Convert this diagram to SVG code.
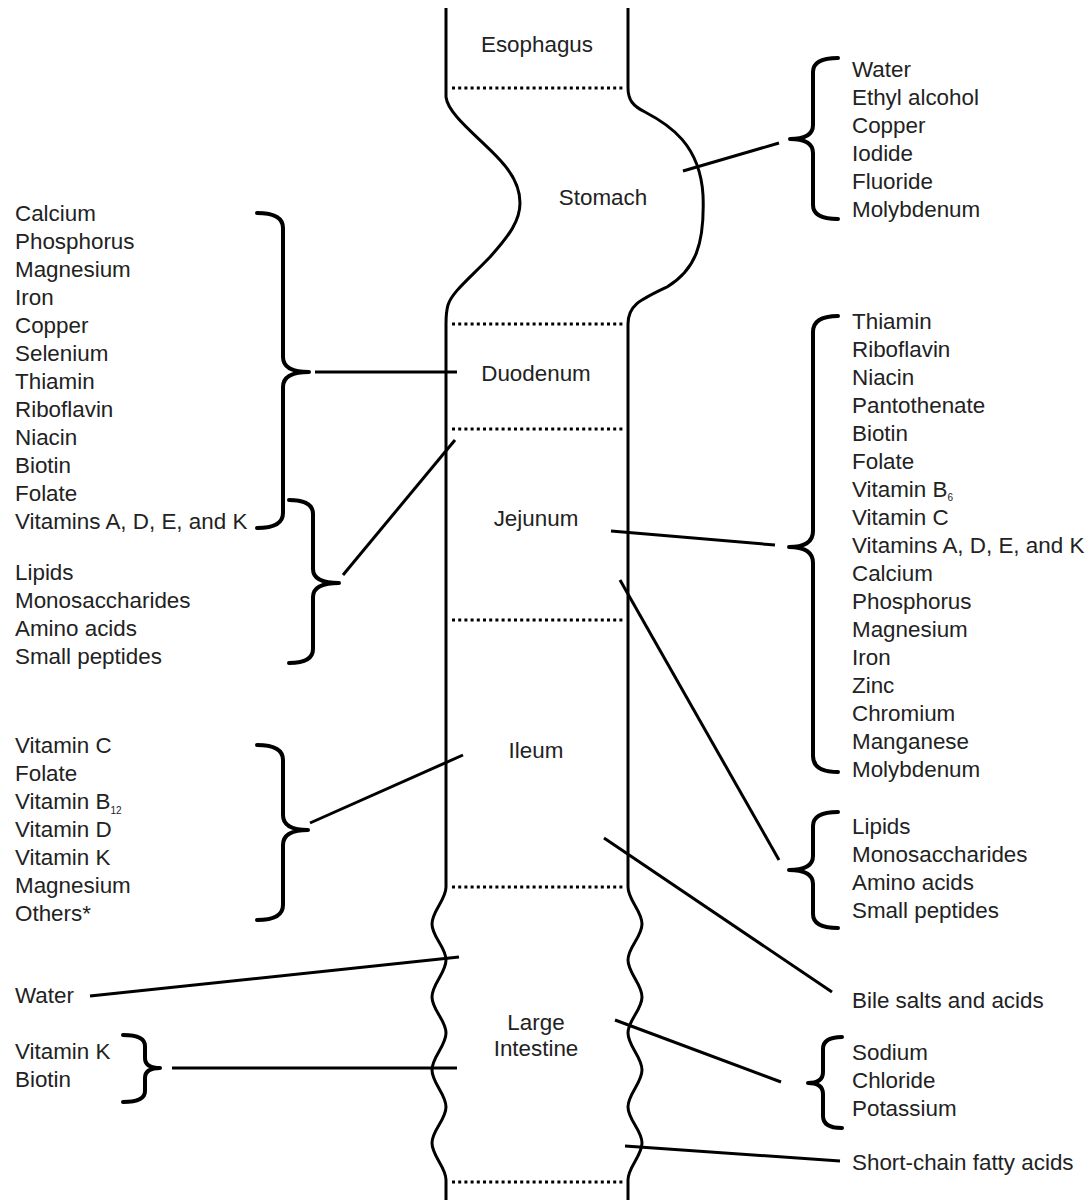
<svg xmlns="http://www.w3.org/2000/svg" width="1091" height="1200" viewBox="0 0 1091 1200">
<style>
.wall{fill:none;stroke:#000;stroke-width:3;stroke-linejoin:round}
.dot{fill:none;stroke:#000;stroke-width:3;stroke-dasharray:3 3.2}
.br{fill:none;stroke:#000;stroke-width:4;stroke-linecap:round;stroke-linejoin:round}
.ln{fill:none;stroke:#000;stroke-width:3;stroke-linecap:butt}
text{font-family:"Liberation Sans",Arial,Helvetica,sans-serif;font-size:22.4px;fill:#222}
.c{text-anchor:middle}
.sub{font-size:10px}
</style>
<rect width="1091" height="1200" fill="#fff"/>
<g id="tube">
<path class="wall" d="M446,8 L446,97 C448,115 480,138 500,160 C515,176 520,190 520,203 C520,220 510,235 490,257 C470,278 452,292 448,305 C446,312 446,318 446,324 L446,887 C446,900 432,911 432,924 C432,937 446,947 446,960 C446,973 432,984 432,997 C432,1010 446,1020 446,1033 C446,1046 432,1057 432,1070 C432,1083 446,1094 446,1107 C446,1120 432,1130 432,1143 C432,1156 446,1167 446,1180 L446,1200"/>
<path class="wall" d="M628,8 L628,88 C628,100 633,106 645,112 C670,125 700,145 703,195 C705,245 695,270 667,287 C640,300 628,305 628,324 L628,887 C628,900 642,911 642,924 C642,937 628,947 628,960 C628,973 642,984 642,997 C642,1010 628,1020 628,1033 C628,1046 642,1057 642,1070 C642,1083 628,1094 628,1107 C628,1120 642,1130 642,1143 C642,1156 628,1167 628,1180 L628,1200"/>
<g id="dividers">
<line class="dot" x1="452" y1="88" x2="624" y2="88"/>
<line class="dot" x1="452" y1="324" x2="624" y2="324"/>
<line class="dot" x1="452" y1="429" x2="624" y2="429"/>
<line class="dot" x1="452" y1="620" x2="624" y2="620"/>
<line class="dot" x1="452" y1="887" x2="624" y2="887"/>
<line class="dot" x1="452" y1="1182" x2="624" y2="1182"/>
</g>
</g>
<g id="esophagus"><text class="c" x="537" y="52">Esophagus</text></g>
<g id="stomach"><text class="c" x="603" y="205">Stomach</text></g>
<g id="duodenum"><text class="c" x="536" y="381">Duodenum</text></g>
<g id="jejunum"><text class="c" x="536" y="526">Jejunum</text></g>
<g id="ileum"><text class="c" x="536" y="758">Ileum</text></g>
<g id="large-intestine"><text class="c" x="536" y="1030">Large</text><text class="c" x="536" y="1056">Intestine</text></g>

<g id="list-stomach">
<path class="br" d="M838,58 Q813,58 813,72 L813,125 Q813,139 790,139 M838,219 Q813,219 813,205 L813,153 Q813,139 790,139"/>
<text x="852" y="77">Water</text>
<text x="852" y="105">Ethyl alcohol</text>
<text x="852" y="133">Copper</text>
<text x="852" y="161">Iodide</text>
<text x="852" y="189">Fluoride</text>
<text x="852" y="217">Molybdenum</text>
</g>

<g id="list-left-duodenum">
<path class="br" d="M257,213 Q283,213 283,228 L283,357 Q283,372 309,372 M257,528 Q283,528 283,513 L283,387 Q283,372 309,372"/>
<text x="15" y="221">Calcium</text>
<text x="15" y="249">Phosphorus</text>
<text x="15" y="277">Magnesium</text>
<text x="15" y="305">Iron</text>
<text x="15" y="333">Copper</text>
<text x="15" y="361">Selenium</text>
<text x="15" y="389">Thiamin</text>
<text x="15" y="417">Riboflavin</text>
<text x="15" y="445">Niacin</text>
<text x="15" y="473">Biotin</text>
<text x="15" y="501">Folate</text>
<text x="15" y="529">Vitamins A, D, E, and K</text>
</g>

<g id="list-left-macros">
<path class="br" d="M289,500 Q313,500 313,514 L313,569 Q313,583 339,583 M289,663 Q313,663 313,649 L313,597 Q313,583 339,583"/>
<text x="15" y="580">Lipids</text>
<text x="15" y="608">Monosaccharides</text>
<text x="15" y="636">Amino acids</text>
<text x="15" y="664">Small peptides</text>
</g>

<g id="list-jejunum">
<path class="br" d="M838,316 Q813,316 813,332 L813,531 Q813,547 789,547 M838,772 Q813,772 813,756 L813,563 Q813,547 789,547"/>
<text x="852" y="329">Thiamin</text>
<text x="852" y="357">Riboflavin</text>
<text x="852" y="385">Niacin</text>
<text x="852" y="413">Pantothenate</text>
<text x="852" y="441">Biotin</text>
<text x="852" y="469">Folate</text>
<text x="852" y="497">Vitamin B<tspan class="sub" dy="4">6</tspan></text>
<text x="852" y="525">Vitamin C</text>
<text x="852" y="553">Vitamins A, D, E, and K</text>
<text x="852" y="581">Calcium</text>
<text x="852" y="609">Phosphorus</text>
<text x="852" y="637">Magnesium</text>
<text x="852" y="665">Iron</text>
<text x="852" y="693">Zinc</text>
<text x="852" y="721">Chromium</text>
<text x="852" y="749">Manganese</text>
<text x="852" y="777">Molybdenum</text>
</g>

<g id="list-right-macros">
<path class="br" d="M838,812 Q813,812 813,826 L813,856 Q813,870 789,870 M838,928 Q813,928 813,914 L813,884 Q813,870 789,870"/>
<text x="852" y="834">Lipids</text>
<text x="852" y="862">Monosaccharides</text>
<text x="852" y="890">Amino acids</text>
<text x="852" y="918">Small peptides</text>
</g>

<g id="list-ileum">
<path class="br" d="M257,745 Q283,745 283,760 L283,815 Q283,830 308,830 M257,920 Q283,920 283,905 L283,845 Q283,830 308,830"/>
<text x="15" y="753">Vitamin C</text>
<text x="15" y="781">Folate</text>
<text x="15" y="809">Vitamin B<tspan class="sub" dy="5">12</tspan></text>
<text x="15" y="837">Vitamin D</text>
<text x="15" y="865">Vitamin K</text>
<text x="15" y="893">Magnesium</text>
<text x="15" y="921">Others*</text>
</g>

<g id="label-water"><text x="15" y="1003">Water</text></g>

<g id="list-large-left">
<path class="br" d="M123,1035 Q145,1035 145,1046 L145,1058 Q145,1068 160,1068 M123,1102 Q145,1102 145,1091 L145,1078 Q145,1068 160,1068"/>
<text x="15" y="1059">Vitamin K</text>
<text x="15" y="1087">Biotin</text>
</g>

<g id="label-bile"><text x="852" y="1008">Bile salts and acids</text></g>

<g id="list-electrolytes">
<path class="br" d="M842,1037 Q823,1037 823,1049 L823,1072 Q823,1083 808,1083 M842,1128 Q823,1128 823,1116 L823,1094 Q823,1083 808,1083"/>
<text x="852" y="1060">Sodium</text>
<text x="852" y="1088">Chloride</text>
<text x="852" y="1116">Potassium</text>
</g>

<g id="label-scfa"><text x="852" y="1170">Short-chain fatty acids</text></g>

<g id="connectors">
<line class="ln" x1="683" y1="171" x2="779" y2="143"/>
<line class="ln" x1="315" y1="372" x2="457" y2="372"/>
<line class="ln" x1="343" y1="575" x2="455" y2="440"/>
<line class="ln" x1="611" y1="531" x2="775" y2="545"/>
<line class="ln" x1="620" y1="580" x2="779" y2="860"/>
<line class="ln" x1="310" y1="823" x2="463" y2="755"/>
<line class="ln" x1="604" y1="838" x2="832" y2="992"/>
<line class="ln" x1="90" y1="996" x2="459" y2="957"/>
<line class="ln" x1="172" y1="1068" x2="457" y2="1068"/>
<line class="ln" x1="615" y1="1020" x2="781" y2="1082"/>
<line class="ln" x1="625" y1="1146" x2="840" y2="1161"/>
</g>
</svg>
